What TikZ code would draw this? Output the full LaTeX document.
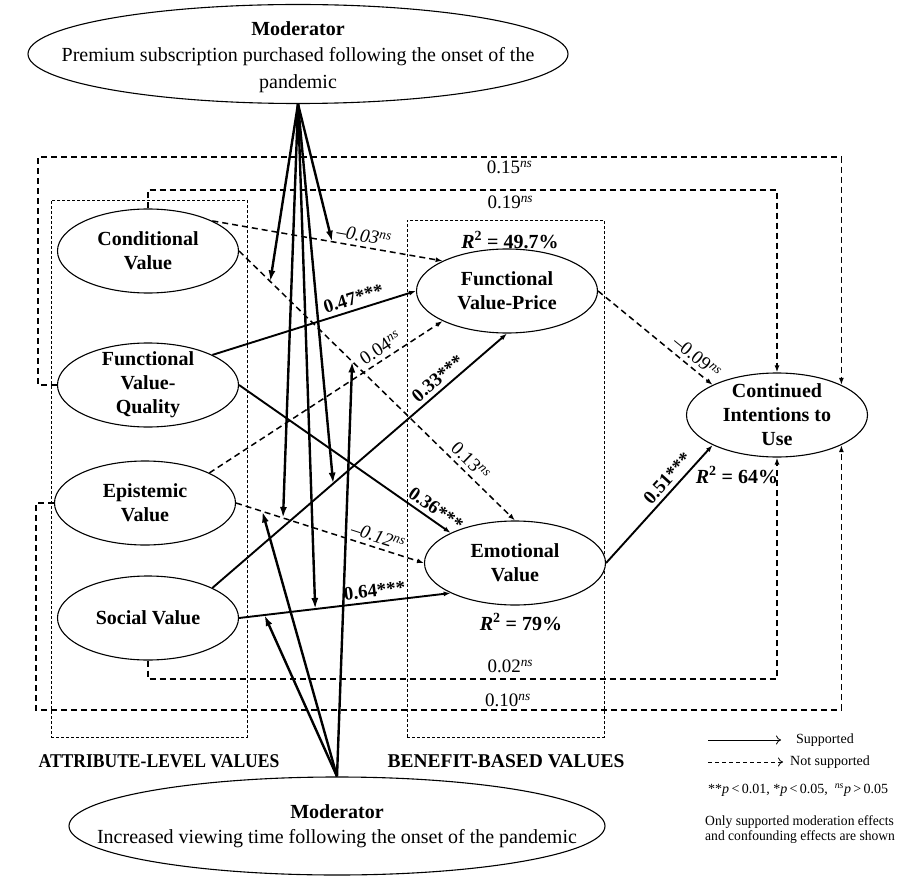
\documentclass[tikz,border=0pt]{standalone}
\usepackage{fontspec}
\setmainfont{Liberation Serif}
\usepackage{graphicx}
\usetikzlibrary{shapes.geometric,arrows.meta,calc}
\newcommand\myfs[2]{\fontsize{#1}{#2}\selectfont}
\newcommand\nsup{\textsuperscript{\textit{ns}}}
\begin{document}
\begin{tikzpicture}[x=1pt,y=-1pt,
 ell/.style={ellipse, draw, line width=1.1pt, fill=white, minimum width=181pt, minimum height=84pt, inner sep=0pt},
 elltext/.style={font=\myfs{20}{24}\bfseries, align=center, inner sep=0pt},
 boxstyle/.style={draw, line width=0.8pt, dash pattern=on 3pt off 2pt, inner sep=0pt},
 dline/.style={line width=1.5pt, dash pattern=on 6pt off 4pt, -{Latex[length=7pt,width=5pt]}},
 sline/.style={line width=1.9pt, -{Latex[length=7pt,width=5pt]}},
 mline/.style={line width=2.4pt, -{Latex[length=11pt,width=7pt]}},
 blab/.style={font=\myfs{19}{22}\bfseries, sloped, above=3pt, inner sep=1pt},
 ilab/.style={font=\myfs{19}{22}\itshape, sloped, above=3pt, inner sep=1pt},
 nlab/.style={font=\myfs{19}{22}, sloped, above=3pt, inner sep=1pt},
 flab/.style={font=\myfs{19}{22}, inner sep=1pt},
 rlab/.style={font=\myfs{20}{24}\bfseries, inner sep=0pt},
 leg/.style={font=\myfs{14}{15}, anchor=west, inner sep=0pt, align=left},
]
\fill[white] (0,0) rectangle (902,877);
\useasboundingbox (0,0) rectangle (902,877);

% category boxes
\node[boxstyle, minimum width=196pt, minimum height=537pt, anchor=north west] (abox) at (51,200) {};
\node[boxstyle, minimum width=197pt, minimum height=517pt, anchor=north west] (bbox) at (407,220) {};

% ellipses
\node[ell, label={[elltext]center:{Conditional\\Value}}] (cond) at (148,251) {};
\node[ell, label={[elltext]center:{Functional\\Value-\\Quality}}] (fvq) at (148,385) {};
\node[ell, label={[elltext]center:{Epistemic\\Value}}] (epi) at (145,503) {};
\node[ell, label={[elltext]center:{Social Value}}] (soc) at (148,618) {};
\node[ell, label={[elltext]center:{Functional\\Value-Price}}] (fvp) at (507,291) {};
\node[ell, label={[elltext]center:{Emotional\\Value}}] (emo) at (515,563) {};
\node[ell, label={[elltext]center:{Continued\\Intentions to\\Use}}] (cont) at (777,415) {};

\node[ell, minimum width=540pt, minimum height=99pt,
  label={[font=\myfs{20}{26.5}, align=center, inner sep=0pt, yshift=-3pt]center:{\textbf{Moderator}\\Premium subscription purchased following the onset of the\\pandemic}}] (mt) at (298,54) {};
\node[ell, minimum width=536pt, minimum height=98pt,
  label={[font=\myfs{20}{25}, align=center, inner sep=0pt]center:{\textbf{Moderator}\\Increased viewing time following the onset of the pandemic}}] (mb) at (337,826) {};

% feedback (confounding) paths
\coordinate (l15) at (38,157);
\coordinate (l19) at (148,190);
\coordinate (l02) at (148,679);
\coordinate (l10) at (36,710);
\draw[dline] (fvq.west) -| (l15) -- node[flab, below=2pt, pos=0.587] (t15) {0.15\nsup} (cont.north east |- l15) -- (cont.north east);
\draw[dline] (cond.north) -- (l19) -- node[flab, below=4pt, pos=0.576] (t19) {0.19\nsup} (cont.north |- l19) -- (cont.north);
\draw[dline] (soc.south) -- (l02) -- node[flab, above=4pt, pos=0.576] (t02) {0.02\nsup} (cont.south |- l02) -- (cont.south);
\draw[dline] (epi.west) -| (l10) -- node[flab, above=1pt, pos=0.586] (t10) {0.10\nsup} (cont.south east |- l10) -- (cont.south east);

% structural paths
\draw[dline] (cond.north east) -- node[ilab, pos=0.65] (e1) {\textendash0.03\nsup} coordinate[pos=0.52] (m2) (fvp.north west);
\draw[sline] (fvq.north east) -- node[blab, pos=0.71] (e2) {0.47***} (fvp.west);
\draw[dline] (epi.north east) -- node[nlab, pos=0.76] (e3) {0.04\nsup} (fvp.south west);
\draw[sline] (soc.north east) -- node[blab, pos=0.79] (e4) {0.33***} coordinate[pos=0.41] (m4) (fvp.south);
\draw[dline] (cond.east) -- node[nlab, pos=0.81] (e5) {0.13\nsup} coordinate[pos=0.113] (m1) coordinate[pos=0.41] (b3) (emo.north);
\draw[sline] (fvq.east) -- node[blab, pos=0.9] (e6) {0.36***} (emo.north west);
\draw[dline] (epi.east) -- node[ilab, pos=0.737] (e7) {\textendash0.12\nsup} coordinate[pos=0.25] (m3) coordinate[pos=0.14] (b2) (emo.west);
\draw[sline] (soc.east) -- node[blab, pos=0.647] (e8) {0.64***} coordinate[pos=0.36] (m5) coordinate[pos=0.12] (b1) (emo.south west);
\draw[dline] (fvp.east) -- node[nlab, pos=0.8] (e9) {\textendash0.09\nsup} (cont.north west);
\draw[sline] (emo.east) -- node[blab, pos=0.655] (e10) {0.51***} (cont.south west);

% R squared
\node[rlab] (r1) at (510,240) {\textit{R}\textsuperscript{2} = 49.7\%};
\node[rlab] (r2) at (521,622) {\textit{R}\textsuperscript{2} = 79\%};
\node[rlab] (r3) at (737,475) {\textit{R}\textsuperscript{2} = 64\%};

% moderator arrows
\foreach \t in {m1,m2,m3,m4,m5} \draw[mline] (mt.south) -- (\t);
\foreach \t in {b1,b2,b3} \draw[mline] (mb.north) -- (\t);

% category labels
\node[font=\myfs{19.5}{22}\bfseries, inner sep=0pt] (attr) at (159,761) {\scalebox{0.9}[1]{ATTRIBUTE-LEVEL VALUES}};
\node[font=\myfs{19.5}{22}\bfseries, inner sep=0pt] (ben) at (506,761) {BENEFIT-BASED VALUES};

% legend
\coordinate (ls1) at (708,740); \coordinate (le1) at (781,740);
\draw[line width=0.8pt, -{To[length=5pt,width=9pt]}] (ls1) -- (le1);
\node[leg] (lt1) at (796,740) {Supported};
\coordinate (ls2) at (708,762); \coordinate (le2) at (783,762);
\draw[line width=0.8pt, dash pattern=on 4pt off 3pt, -{To[length=5pt,width=9pt]}] (ls2) -- (le2);
\node[leg] (lt2) at (790,762) {Not supported};
\node[leg] (lt3) at (708,790) {**\textit{p}\,<\,0.01, *\textit{p}\,<\,0.05, \ \textsuperscript{\textit{ns}}\textit{p}\,>\,0.05};
\node[leg] (lt4) at (705,830) {\scalebox{0.97}[1]{Only supported moderation effects}\\\scalebox{0.97}[1]{and confounding effects are shown}};
\end{tikzpicture}
\end{document}
